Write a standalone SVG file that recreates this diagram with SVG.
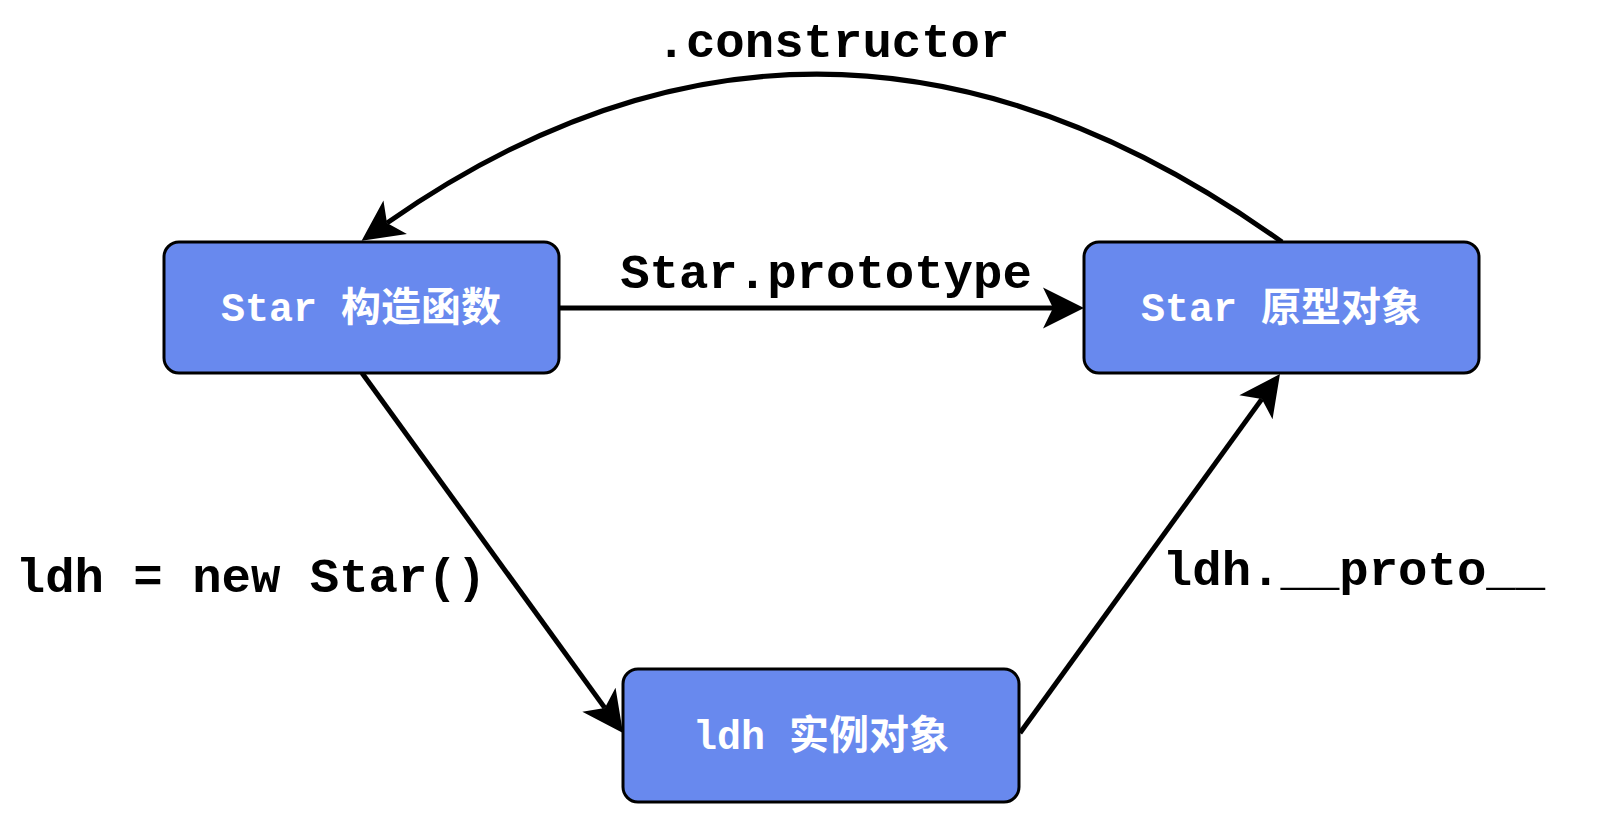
<svg xmlns="http://www.w3.org/2000/svg" width="1598" height="828" viewBox="0 0 1598 828">
  <style>
    .box { fill: #6889EE; stroke: #000; stroke-width: 3; }
    .ntext { font-family: "Liberation Mono", "Noto Sans CJK SC", monospace; font-weight: bold; font-size: 40px; fill: #fff; text-anchor: middle; }
    .label { font-family: "Liberation Mono", "Courier New", monospace; font-weight: bold; font-size: 49px; fill: #000; text-anchor: middle; }
    .edge { fill: none; stroke: #000; stroke-width: 5; marker-end: url(#arrow); }
  </style>
  <defs>
    <marker id="arrow" markerUnits="userSpaceOnUse" viewBox="-42 -21 43 42" markerWidth="43" markerHeight="42" refX="-31" refY="0" orient="auto" overflow="visible">
      <path d="M0,0 L-41,-20.5 L-31,0 L-41,20.5 Z" fill="#000"/>
    </marker>
  </defs>
  <rect width="1598" height="828" fill="#fff"/>
  <g id="connectors">
    <path class="edge" d="M1282,242 Q826,-84 387,223"/>
    <path class="edge" d="M559,308 L1053,308"/>
    <path class="edge" d="M362,373 L604.8,707.9"/>
    <path class="edge" d="M1020,733 L1261.8,399.1"/>
  </g>
  <g id="labels">
    <text class="label" x="833" y="57">.constructor</text>
    <text class="label" x="826" y="288">Star.prototype</text>
    <text class="label" x="251" y="592">ldh = new Star()</text>
    <text class="label" x="1354" y="585">ldh.__proto__</text>
  </g>
  <g id="node-constructor">
    <rect class="box" x="164" y="242" width="395" height="131" rx="15"/>
    <text class="ntext" x="361" y="321">Star 构造函数</text>
  </g>
  <g id="node-prototype">
    <rect class="box" x="1084" y="242" width="395" height="131" rx="15"/>
    <text class="ntext" x="1281" y="321">Star 原型对象</text>
  </g>
  <g id="node-instance">
    <rect class="box" x="623" y="669" width="396" height="133" rx="15"/>
    <text class="ntext" x="821" y="749">ldh 实例对象</text>
  </g>
</svg>
